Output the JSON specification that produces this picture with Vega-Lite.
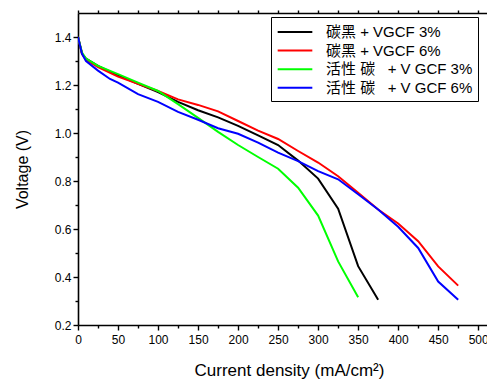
{
  "$schema": "https://vega.github.io/schema/vega-lite/v6.json",
  "width": 409,
  "height": 312,
  "autosize": "none",
  "padding": {"left": 78, "top": 13, "right": 0, "bottom": 54},
  "background": "white",
  "config": {
    "view": {"stroke": null},
    "font": "Liberation Sans",
    "axis": {"domainColor": "black", "domainWidth": 1.6, "tickColor": "black", "tickWidth": 1.4, "labelColor": "black", "titleColor": "black", "labelFont": "Liberation Sans", "titleFont": "Liberation Sans", "titleFontWeight": "normal", "grid": false}
  },
  "data": {"values": [
    {"x": 0, "v": 1.40, "s": "碳黑 + VGCF 3%"},
    {"x": 5, "v": 1.33, "s": "碳黑 + VGCF 3%"},
    {"x": 10, "v": 1.31, "s": "碳黑 + VGCF 3%"},
    {"x": 25, "v": 1.28, "s": "碳黑 + VGCF 3%"},
    {"x": 50, "v": 1.24, "s": "碳黑 + VGCF 3%"},
    {"x": 75, "v": 1.205, "s": "碳黑 + VGCF 3%"},
    {"x": 100, "v": 1.17, "s": "碳黑 + VGCF 3%"},
    {"x": 125, "v": 1.13, "s": "碳黑 + VGCF 3%"},
    {"x": 150, "v": 1.095, "s": "碳黑 + VGCF 3%"},
    {"x": 175, "v": 1.065, "s": "碳黑 + VGCF 3%"},
    {"x": 200, "v": 1.03, "s": "碳黑 + VGCF 3%"},
    {"x": 225, "v": 0.99, "s": "碳黑 + VGCF 3%"},
    {"x": 250, "v": 0.95, "s": "碳黑 + VGCF 3%"},
    {"x": 275, "v": 0.885, "s": "碳黑 + VGCF 3%"},
    {"x": 300, "v": 0.81, "s": "碳黑 + VGCF 3%"},
    {"x": 325, "v": 0.685, "s": "碳黑 + VGCF 3%"},
    {"x": 350, "v": 0.445, "s": "碳黑 + VGCF 3%"},
    {"x": 375, "v": 0.305, "s": "碳黑 + VGCF 3%"},
    {"x": 0, "v": 1.40, "s": "碳黑 + VGCF 6%"},
    {"x": 5, "v": 1.33, "s": "碳黑 + VGCF 6%"},
    {"x": 10, "v": 1.305, "s": "碳黑 + VGCF 6%"},
    {"x": 25, "v": 1.275, "s": "碳黑 + VGCF 6%"},
    {"x": 50, "v": 1.235, "s": "碳黑 + VGCF 6%"},
    {"x": 75, "v": 1.205, "s": "碳黑 + VGCF 6%"},
    {"x": 100, "v": 1.175, "s": "碳黑 + VGCF 6%"},
    {"x": 125, "v": 1.14, "s": "碳黑 + VGCF 6%"},
    {"x": 150, "v": 1.117, "s": "碳黑 + VGCF 6%"},
    {"x": 175, "v": 1.09, "s": "碳黑 + VGCF 6%"},
    {"x": 200, "v": 1.05, "s": "碳黑 + VGCF 6%"},
    {"x": 225, "v": 1.01, "s": "碳黑 + VGCF 6%"},
    {"x": 250, "v": 0.975, "s": "碳黑 + VGCF 6%"},
    {"x": 275, "v": 0.925, "s": "碳黑 + VGCF 6%"},
    {"x": 300, "v": 0.877, "s": "碳黑 + VGCF 6%"},
    {"x": 325, "v": 0.82, "s": "碳黑 + VGCF 6%"},
    {"x": 350, "v": 0.751, "s": "碳黑 + VGCF 6%"},
    {"x": 375, "v": 0.681, "s": "碳黑 + VGCF 6%"},
    {"x": 400, "v": 0.623, "s": "碳黑 + VGCF 6%"},
    {"x": 425, "v": 0.549, "s": "碳黑 + VGCF 6%"},
    {"x": 450, "v": 0.444, "s": "碳黑 + VGCF 6%"},
    {"x": 475, "v": 0.364, "s": "碳黑 + VGCF 6%"},
    {"x": 0, "v": 1.40, "s": "活性 碳  + V GCF 3%"},
    {"x": 5, "v": 1.335, "s": "活性 碳  + V GCF 3%"},
    {"x": 10, "v": 1.31, "s": "活性 碳  + V GCF 3%"},
    {"x": 25, "v": 1.28, "s": "活性 碳  + V GCF 3%"},
    {"x": 50, "v": 1.245, "s": "活性 碳  + V GCF 3%"},
    {"x": 75, "v": 1.21, "s": "活性 碳  + V GCF 3%"},
    {"x": 100, "v": 1.175, "s": "活性 碳  + V GCF 3%"},
    {"x": 125, "v": 1.12, "s": "活性 碳  + V GCF 3%"},
    {"x": 150, "v": 1.063, "s": "活性 碳  + V GCF 3%"},
    {"x": 175, "v": 1.005, "s": "活性 碳  + V GCF 3%"},
    {"x": 200, "v": 0.95, "s": "活性 碳  + V GCF 3%"},
    {"x": 225, "v": 0.90, "s": "活性 碳  + V GCF 3%"},
    {"x": 250, "v": 0.851, "s": "活性 碳  + V GCF 3%"},
    {"x": 275, "v": 0.772, "s": "活性 碳  + V GCF 3%"},
    {"x": 300, "v": 0.656, "s": "活性 碳  + V GCF 3%"},
    {"x": 325, "v": 0.465, "s": "活性 碳  + V GCF 3%"},
    {"x": 350, "v": 0.316, "s": "活性 碳  + V GCF 3%"},
    {"x": 0, "v": 1.40, "s": "活性 碳  + V GCF 6%"},
    {"x": 5, "v": 1.33, "s": "活性 碳  + V GCF 6%"},
    {"x": 10, "v": 1.30, "s": "活性 碳  + V GCF 6%"},
    {"x": 25, "v": 1.26, "s": "活性 碳  + V GCF 6%"},
    {"x": 40, "v": 1.225, "s": "活性 碳  + V GCF 6%"},
    {"x": 50, "v": 1.21, "s": "活性 碳  + V GCF 6%"},
    {"x": 75, "v": 1.162, "s": "活性 碳  + V GCF 6%"},
    {"x": 100, "v": 1.13, "s": "活性 碳  + V GCF 6%"},
    {"x": 125, "v": 1.088, "s": "活性 碳  + V GCF 6%"},
    {"x": 150, "v": 1.055, "s": "活性 碳  + V GCF 6%"},
    {"x": 175, "v": 1.02, "s": "活性 碳  + V GCF 6%"},
    {"x": 200, "v": 0.997, "s": "活性 碳  + V GCF 6%"},
    {"x": 225, "v": 0.96, "s": "活性 碳  + V GCF 6%"},
    {"x": 250, "v": 0.918, "s": "活性 碳  + V GCF 6%"},
    {"x": 275, "v": 0.883, "s": "活性 碳  + V GCF 6%"},
    {"x": 300, "v": 0.841, "s": "活性 碳  + V GCF 6%"},
    {"x": 325, "v": 0.807, "s": "活性 碳  + V GCF 6%"},
    {"x": 350, "v": 0.745, "s": "活性 碳  + V GCF 6%"},
    {"x": 375, "v": 0.681, "s": "活性 碳  + V GCF 6%"},
    {"x": 400, "v": 0.609, "s": "活性 碳  + V GCF 6%"},
    {"x": 425, "v": 0.521, "s": "活性 碳  + V GCF 6%"},
    {"x": 450, "v": 0.381, "s": "活性 碳  + V GCF 6%"},
    {"x": 475, "v": 0.305, "s": "活性 碳  + V GCF 6%"}
  ]},
  "resolve": {"axis": {"x": "independent", "y": "independent"}},
  "layer": [
    {
      "mark": {"type": "line", "strokeWidth": 2, "clip": true},
      "encoding": {
        "x": {"field": "x", "type": "quantitative", "scale": {"domain": [0, 511], "nice": false, "zero": false},
          "axis": {"orient": "bottom", "values": [0,25,50,75,100,125,150,175,200,225,250,275,300,325,350,375,400,425,450,475,500],
            "labelExpr": "datum.value % 50 === 0 ? datum.label : ''",
            "tickSize": {"condition": {"test": "datum.value % 50 === 0", "value": 5}, "value": 3},
            "labelFontSize": 12, "labelPadding": 4, "labelFlush": false, "labelOverlap": false,
            "title": "Current density (mA/cm²)", "titleFontSize": 17, "titlePadding": 17, "titleX": 211}},
        "y": {"field": "v", "type": "quantitative", "scale": {"domain": [0.2, 1.5], "nice": false, "zero": false},
          "axis": {"orient": "left", "values": [0.2,0.3,0.4,0.5,0.6,0.7,0.8,0.9,1.0,1.1,1.2,1.3,1.4],
            "format": ".1f",
            "labelExpr": "round(datum.value*10) % 2 === 0 ? datum.label : ''",
            "tickSize": {"condition": {"test": "round(datum.value*10) % 2 === 0", "value": 5}, "value": 3},
            "labelFontSize": 12, "labelPadding": 2, "labelFlush": false, "labelOverlap": false,
            "title": "Voltage (V)", "titleFontSize": 16, "titlePadding": 24}},
        "color": {"field": "s", "type": "nominal",
          "scale": {"domain": ["碳黑 + VGCF 3%", "碳黑 + VGCF 6%", "活性 碳  + V GCF 3%", "活性 碳  + V GCF 6%"], "range": ["#000000", "#ff0000", "#00ff00", "#0000ff"]},
          "legend": {"orient": "none", "legendX": 193, "legendY": 4, "title": null,
            "symbolType": "M-2,0H2", "symbolSize": 300, "symbolStrokeWidth": 2, "symbolOffset": 9,
            "labelFont": "Liberation Sans, Noto Sans CJK SC", "labelFontSize": 15, "labelColor": "black",
            "labelExpr": "replace(replace(datum.label, '  ', '\u00a0\u00a0\u00a0'), ' V ', ' V\u00a0')",
            "labelOffset": 21, "padding": 5, "rowPadding": 0.6,
            "strokeColor": "black", "fillColor": "white"}}
      }
    },
    {
      "mark": {"type": "line", "strokeOpacity": 0},
      "encoding": {
        "x": {"field": "x", "type": "quantitative",
          "axis": {"orient": "top", "values": [0,25,50,75,100,125,150,175,200,225,250,275,300,325,350,375,400,425,450,475,500], "labels": false, "title": null, "tickSize": 3}},
        "y": {"field": "v", "type": "quantitative", "axis": null},
        "detail": {"field": "s", "type": "nominal"}
      }
    }
  ]
}
